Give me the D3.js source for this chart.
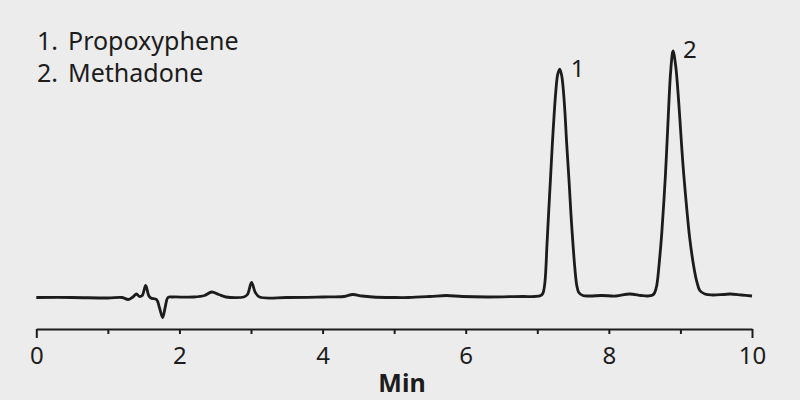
<!DOCTYPE html>
<html>
<head>
<meta charset="utf-8">
<script src="https://cdn.jsdelivr.net/npm/d3@7"></script>
<style>
  html, body { margin: 0; padding: 0; background: #ececec; }
  svg { display: block; }
</style>
</head>
<body>
<svg id="chart" width="800" height="400"></svg>
<script>
// ---- Data ----
const compounds = ["Propoxyphene", "Methadone"];
const peakNumbers = ["1", "2"];
const peakTimes = [7.314, 8.897];
const peakHeights = [228, 246];

const time = [
  0, 0.5, 1.0, 1.2, 1.285, 1.35, 1.40, 1.44, 1.48, 1.528, 1.57, 1.60, 1.68, 1.72, 1.765, 1.80, 1.84, 1.9,
  2.2, 2.35, 2.45, 2.55, 2.65, 2.9, 2.95, 3.008, 3.06, 3.12, 3.5, 4.0, 4.3, 4.42, 4.55, 4.7, 5.0, 5.2,
  5.5, 5.73, 5.95, 6.3, 6.8, 6.965,
  7.049, 7.077, 7.105, 7.137, 7.161, 7.184, 7.216, 7.258, 7.286, 7.314, 7.342, 7.377, 7.412, 7.444,
  7.468, 7.492, 7.524, 7.552, 7.580, 7.636, 7.734,
  7.9, 8.1, 8.29, 8.45, 8.543,
  8.613, 8.641, 8.669, 8.711, 8.739, 8.791, 8.823, 8.865, 8.897, 8.934, 8.976, 9.018, 9.046, 9.088,
  9.130, 9.186, 9.228, 9.271, 9.341, 9.441,
  9.6, 9.7, 9.85, 10.0
];
const response = [
  0, 0, -0.5, 0, -2, 0.5, 3.5, 1, 2, 12, 2, -0.5, -2, -10, -20, -10, 0, 0.5,
  0.5, 2, 5.5, 3, 0.5, 0.5, 3, 15, 5, 0.5, 0, 0.5, 1, 3, 1.5, 0.5, 0, 0,
  1, 2, 1, 0.5, 1, 1,
  2, 4, 14, 55, 88, 118, 160, 205, 223, 228, 221, 195, 152, 116,
  86, 60, 30, 12, 5, 2, 1.5,
  2, 1.5, 3.5, 2, 1.5,
  2.5, 5, 12, 40, 64, 123, 170, 227, 246, 231, 195, 150, 123, 89,
  59, 31, 16, 7, 3.5, 2.5,
  3, 3.5, 2.5, 1.5
];

const tickValues = [0, 1, 2, 3, 4, 5, 6, 7, 8, 9, 10];
const tickLabels = ["0", "", "2", "", "4", "", "6", "", "8", "", "10"];
const xTitle = "Min";

// ---- Layout ----
const svg = d3.select("#chart");
const font = "'Noto Sans', 'Open Sans', sans-serif";
const ink = "#1c1c1c";

const x = d3.scaleLinear().domain([0, 10]).range([36.3, 752]);
const y = d3.scaleLinear().domain([0, 246]).range([297.5, 51]);
const axisY = 329;

// Axis
const axis = d3.axisBottom(x)
  .tickValues(tickValues)
  .tickSize(5)
  .tickSizeOuter(0)
  .tickFormat((d, i) => tickLabels[i]);

const gAxis = svg.append("g")
  .attr("transform", `translate(0,${axisY})`)
  .call(axis);

gAxis.select(".domain").attr("stroke", ink).attr("stroke-width", 2.2);
gAxis.selectAll(".tick line")
  .attr("stroke", ink)
  .attr("stroke-width", 2)
  .attr("y2", (d, i) => (i === 0 || i === tickValues.length - 1) ? 9 : 5);
gAxis.selectAll(".tick text")
  .attr("fill", ink)
  .attr("font-family", font)
  .attr("font-size", 24)
  .attr("y", 35)
  .attr("dy", 0);

svg.append("text")
  .attr("x", 402)
  .attr("y", 392)
  .attr("text-anchor", "middle")
  .attr("font-family", font)
  .attr("font-weight", "bold")
  .attr("font-size", 25)
  .attr("fill", ink)
  .text(xTitle);

// Trace
const pts = time.map((t, i) => [t, response[i]]);
const line = d3.line()
  .x(d => x(d[0]))
  .y(d => y(d[1]))
  .curve(d3.curveCatmullRom.alpha(0.5));

svg.append("path")
  .datum(pts)
  .attr("d", line)
  .attr("fill", "none")
  .attr("stroke", ink)
  .attr("stroke-width", 2.8)
  .attr("stroke-linejoin", "round");

// Peak labels
const peakLabelOffsets = [[11, -8], [10, -9]];
svg.selectAll("text.peak")
  .data(peakNumbers)
  .join("text")
  .attr("class", "peak")
  .attr("x", (d, i) => x(peakTimes[i]) + peakLabelOffsets[i][0])
  .attr("y", (d, i) => y(peakHeights[i]) + peakLabelOffsets[i][1] + 16)
  .attr("font-family", font)
  .attr("font-size", 24)
  .attr("fill", ink)
  .text(d => d);

// Legend
const legend = svg.append("g");
compounds.forEach((c, i) => {
  legend.append("text")
    .attr("x", 37)
    .attr("y", 50 + i * 32)
    .attr("font-family", font)
    .attr("font-size", 25)
    .attr("fill", ink)
    .text(`${i + 1}.`);
  legend.append("text")
    .attr("x", 68)
    .attr("y", 50 + i * 32)
    .attr("font-family", font)
    .attr("font-size", 25)
    .attr("fill", ink)
    .text(c);
});
</script>
</body>
</html>
